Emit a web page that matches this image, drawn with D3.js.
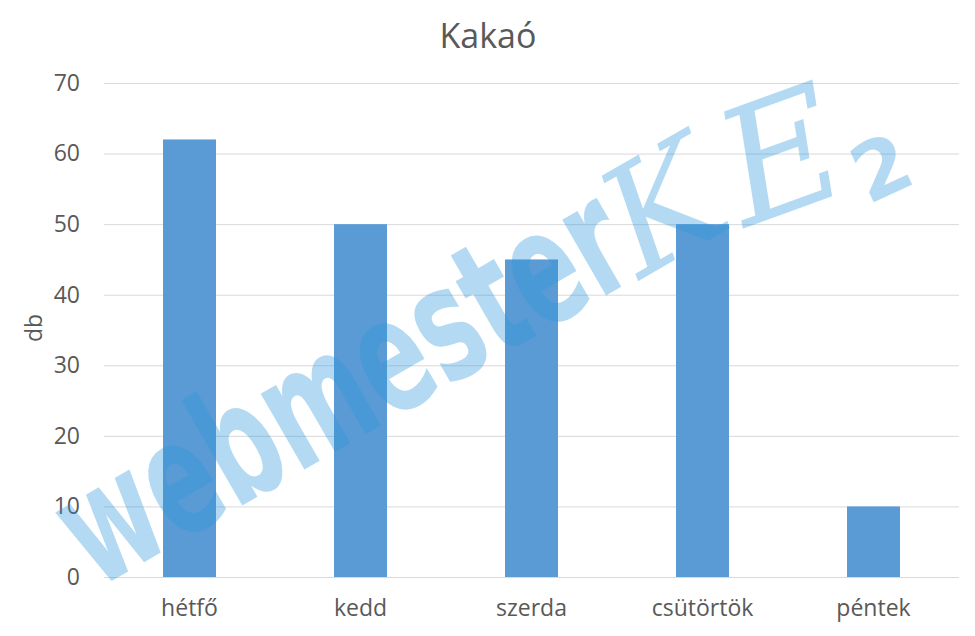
<!DOCTYPE html>
<html>
<head>
<meta charset="utf-8">
<script src="https://cdn.jsdelivr.net/npm/d3@7"></script>
<style>
  html, body { margin: 0; padding: 0; background: #fff; }
  svg { display: block; }
</style>
</head>
<body>
<svg id="chart" width="975" height="636"></svg>
<script>
const categories = ["hétfő", "kedd", "szerda", "csütörtök", "péntek"];
const values = [62, 50, 45, 50, 10];
const yTicks = [0, 10, 20, 30, 40, 50, 60, 70];
const title = "Kakaó";
const yLabel = "db";

const svg = d3.select("#chart");
const font = "'Open Sans', 'Noto Sans', sans-serif";

const x = d3.scaleBand().domain(categories).range([104, 959]).paddingInner(0.69).paddingOuter(0.345);
const y = d3.scaleLinear().domain([0, 70]).range([577, 83]);

// gridlines
svg.append("g").selectAll("line").data(yTicks).join("line")
  .attr("x1", 104).attr("x2", 959)
  .attr("y1", d => y(d) + 0.5).attr("y2", d => y(d) + 0.5)
  .attr("stroke", "#d9d9d9").attr("stroke-width", 1);

// y axis labels
const yAxis = svg.append("g").attr("transform", "translate(80,0)")
  .call(d3.axisLeft(y).tickValues(yTicks).tickSize(0).tickPadding(0));
yAxis.select(".domain").remove();
yAxis.selectAll("text").attr("font-family", font).attr("font-size", 23).attr("fill", "#595959");

// bars
svg.append("g").selectAll("rect").data(values).join("rect")
  .attr("x", (d, i) => x(categories[i]))
  .attr("width", x.bandwidth())
  .attr("y", d => y(d))
  .attr("height", d => y(0) - y(d))
  .attr("fill", "#5b9bd5");

// x axis labels
const xAxis = svg.append("g").attr("transform", "translate(0,595)")
  .call(d3.axisBottom(x).tickSize(0).tickPadding(0));
xAxis.select(".domain").remove();
xAxis.selectAll("text").attr("font-family", font).attr("font-size", 23).attr("fill", "#595959")
  .attr("dy", "0.9em");

// title
svg.append("text").attr("x", 488).attr("y", 48).attr("text-anchor", "middle")
  .attr("font-family", font).attr("font-size", 34).attr("fill", "#595959").text(title);

// y label
svg.append("text").attr("transform", "translate(42,328) rotate(-90)").attr("text-anchor", "middle")
  .attr("font-family", font).attr("font-size", 23).attr("fill", "#595959").text(yLabel);

// watermark
const wm = svg.append("g").attr("fill", "rgb(40,150,222)").attr("fill-opacity", 0.35);
const wmText = wm.append("text")
  .attr("font-family", "'DejaVu Sans', sans-serif").attr("font-weight", "bold")
  .attr("font-size", 160)
  .text("webmester");
const natural = wmText.node().getComputedTextLength() || 1005;
const sx = 630 / natural;
wmText.attr("transform", `translate(96,590) rotate(-30) scale(${sx},1)`);
wm.append("text")
  .attr("transform", "translate(640,280) rotate(-30)")
  .attr("font-family", "'DejaVu Serif', serif").attr("font-style", "italic")
  .attr("font-size", 150).text("K");
wm.append("text")
  .attr("transform", "translate(745,228) rotate(-20)")
  .attr("font-family", "'DejaVu Serif', serif").attr("font-style", "italic")
  .attr("font-size", 160).text("E");
wm.append("text")
  .attr("transform", "translate(868,205) rotate(-25)")
  .attr("font-family", "'DejaVu Sans', sans-serif").attr("font-weight", "bold")
  .attr("font-size", 80).text("2");
</script>
</body>
</html>
